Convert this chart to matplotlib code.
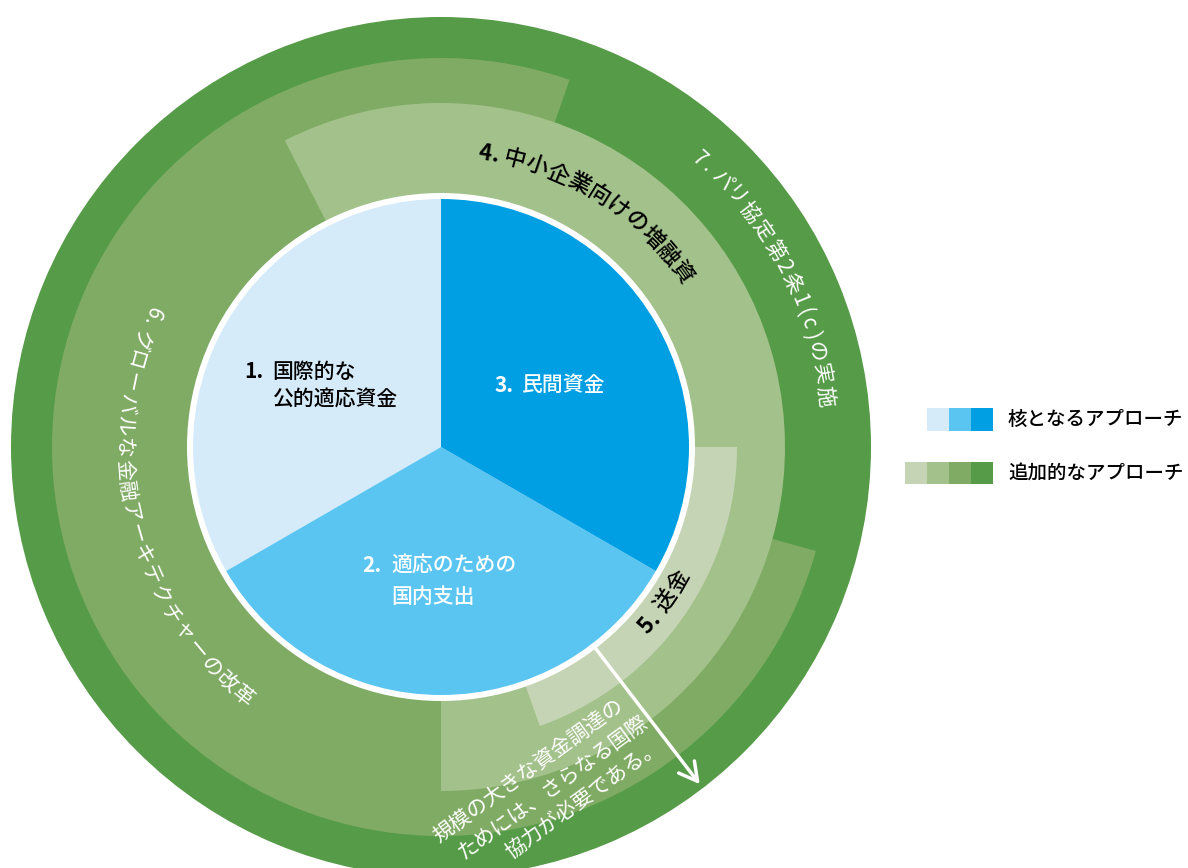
import numpy as np
import matplotlib
matplotlib.use("Agg")
import matplotlib.pyplot as plt
from matplotlib.patches import Wedge, Circle, Rectangle

plt.rcParams['font.family'] = ['Noto Sans CJK JP', 'DejaVu Sans']

# core approaches (inner pie)
core_numbers = ['1.', '2.', '3.']
core_lines = [['国際的な', '公的適応資金'], ['適応のための', '国内支出'], ['民間資金']]
core_shares = [1, 1, 1]
core_colors = ['#D5EBFA', '#5BC5F2', '#009FE3']

# additional approaches (rings): start/end angle in degrees, outer radius in px
ring_ids = ['7', '6', '4', '5']
ring_theta1 = [0, 70.7, -90, -70.5]
ring_theta2 = [360, 344.5, 117, 0]
ring_radius = [430, 389, 344, 296]
ring_colors = ['#569B47', '#80AB64', '#A3C18B', '#C5D4B4']

# curved labels on the rings
arc_labels = ['4. 中小企業向けの増融資', '7. パリ協定第2条1(c)の実施',
              '6. グローバルな金融アーキテクチャーの改革', '5. 送金']
arc_r = [297, 387, 318, 273]
arc_a0 = [81.5, 48.1, 155.0, -41.0]
arc_a1 = [36.0, 7.5, 231.6, -29.5]
arc_outward = [True, True, False, False]
arc_color = ['black', 'white', 'white', 'black']

note_lines = ['規模の大きな資金調達の', 'ためには、さらなる国際', '協力が必要である。']
legend_labels = ['核となるアプローチ', '追加的なアプローチ']

W, H = 1188, 868
cx, cy = 441, H - 447
FS = 15

fig = plt.figure(figsize=(W / 100, H / 100), dpi=100)
ax = fig.add_axes([0, 0, 1, 1])

for t1, t2, r, c in zip(ring_theta1, ring_theta2, ring_radius, ring_colors):
    ax.add_patch(Wedge((cx, cy), r, t1, t2, facecolor=c, edgecolor='none'))

ax.add_patch(Circle((cx, cy), 254, facecolor='white', edgecolor='none'))
ax.pie(core_shares, colors=core_colors, startangle=90, counterclock=True,
       radius=248, center=(cx, cy), wedgeprops=dict(linewidth=0))


def char_w(ch):
    if ch == ' ':
        return 0.25
    if ch == '.':
        return 0.3
    if ch in '()':
        return 0.45
    if ch in 'リ':
        return 0.8
    if ch.isascii():
        return 0.62
    return 1.0


def arc_text(s, r, a0, a1, outward, color):
    ws = [char_w(ch) for ch in s]
    pos = np.cumsum(ws) - np.array(ws) / 2
    nb = s.index('.') + 1
    black = color == 'black'
    for i, (ch, p) in enumerate(zip(s, pos)):
        if ch == ' ':
            continue
        a = a0 + (a1 - a0) * (p - pos[0]) / (pos[-1] - pos[0])
        x = cx + r * np.cos(np.radians(a))
        y = cy + r * np.sin(np.radians(a))
        rot = a - 90 if outward else a + 90
        if black:
            wt = 'bold' if i < nb else 'medium'
        else:
            wt = 'normal'
        ax.text(x, y, ch, rotation=rot, rotation_mode='anchor', ha='center',
                va='center', fontsize=16 if black else 15, color=color,
                fontweight=wt)


for s, r, a0, a1, o, c in zip(arc_labels, arc_r, arc_a0, arc_a1, arc_outward, arc_color):
    arc_text(s, r, a0, a1, o, c)

# inner labels
num_x = [244, 362, 495]
txt_x = [272, 391, 522]
line_y = [[372, 400], [566, 597], [385]]
core_txt_color = ['black', 'white', 'white']
for n, lines, nx, tx, ys, c in zip(core_numbers, core_lines, num_x, txt_x, line_y, core_txt_color):
    ax.text(nx, H - ys[0], n, ha='left', va='center', fontsize=FS,
            fontweight='bold', color=c)
    for ln, yy in zip(lines, ys):
        ax.text(tx, H - yy, ln, ha='left', va='center', fontsize=FS,
                fontweight='medium', color=c)

# arrow
ang = np.radians(-52.5)
ax.annotate('', xy=(cx + 425 * np.cos(ang), cy + 425 * np.sin(ang)),
            xytext=(cx + 253 * np.cos(ang), cy + 253 * np.sin(ang)),
            arrowprops=dict(arrowstyle='->,head_length=1.0,head_width=0.55',
                            color='white', lw=2.5, shrinkA=0, shrinkB=0,
                            mutation_scale=13))

# note
note_xy = [(528.5, 770.5), (553.5, 787), (583, 799.5)]
for ln, (x, y) in zip(note_lines, note_xy):
    ax.text(x, H - y, ln, rotation=36, rotation_mode='anchor', ha='center',
            va='center', fontsize=15, color='white')

# legend
sq = 22
for i, c in enumerate(core_colors):
    ax.add_patch(Rectangle((927 + i * sq, H - 431), sq, 23, facecolor=c, edgecolor='none'))
for i, c in enumerate(ring_colors[::-1]):
    ax.add_patch(Rectangle((905 + i * sq, H - 484), sq, 22, facecolor=c, edgecolor='none'))
ax.text(1008, H - 419, legend_labels[0], ha='left', va='center', fontsize=14,
        fontweight='medium')
ax.text(1008, H - 473, legend_labels[1], ha='left', va='center', fontsize=14,
        fontweight='medium')

ax.set_xlim(0, W)
ax.set_ylim(0, H)
ax.set_aspect('equal')
ax.axis('off')

fig.savefig('out.png', dpi=100)
